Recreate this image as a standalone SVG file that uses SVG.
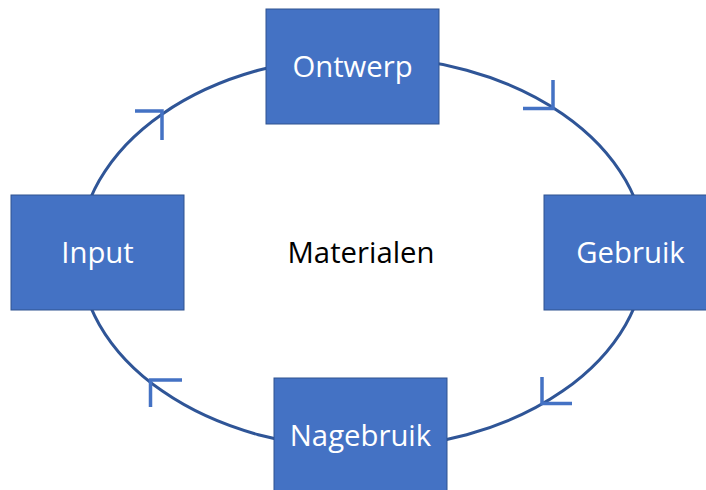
<svg xmlns="http://www.w3.org/2000/svg" width="706" height="490" viewBox="0 0 706 490">
<style>
.arc{fill:none;stroke:#2F5597;stroke-width:3}
.head{fill:none;stroke:#4472C4;stroke-width:3.5;stroke-linecap:butt;stroke-linejoin:miter}
.box{fill:#4472C4;stroke:#2F528F;stroke-width:1}
.lbl{font-family:"Open Sans","Liberation Sans",sans-serif;font-size:29.3px;fill:#FFFFFF;text-anchor:middle}
.center{font-family:"Open Sans","Liberation Sans",sans-serif;font-size:29.3px;fill:#000000;text-anchor:middle}
</style>
<rect width="706" height="490" fill="#FFFFFF"/>
<g id="connectors">
  <path class="arc" d="M 362.5 56.5 A 283 196 0 0 1 645.5 252.5"/>
  <path class="arc" d="M 645.5 252.5 A 283 196 0 0 1 362.5 448.5"/>
  <path class="arc" d="M 362.5 448.5 A 283 196 0 0 1 79.5 252.5"/>
  <path class="arc" d="M 79.5 252.5 A 283 196 0 0 1 362.5 56.5"/>
  <path class="head" d="M 553 80 L 553 108.5 L 523 108.5"/>
  <path class="head" d="M 542 377 L 542 403.5 L 572 403.5"/>
  <path class="head" d="M 182 380 L 150.5 380 L 150.5 407"/>
  <path class="head" d="M 135 111 L 162 111 L 162 140"/>
</g>
<g id="ontwerp">
  <rect class="box" x="266" y="9" width="173" height="115"/>
  <text class="lbl" x="352.5" y="77">Ontwerp</text>
</g>
<g id="gebruik">
  <rect class="box" x="544" y="195" width="173" height="115"/>
  <text class="lbl" x="630.5" y="263">Gebruik</text>
</g>
<g id="nagebruik">
  <rect class="box" x="274" y="378" width="173" height="115"/>
  <text class="lbl" x="360.5" y="446">Nagebruik</text>
</g>
<g id="input">
  <rect class="box" x="11" y="195" width="173" height="115"/>
  <text class="lbl" x="97.5" y="263">Input</text>
</g>
<g id="materialen">
  <text class="center" x="361" y="263">Materialen</text>
</g>
</svg>
